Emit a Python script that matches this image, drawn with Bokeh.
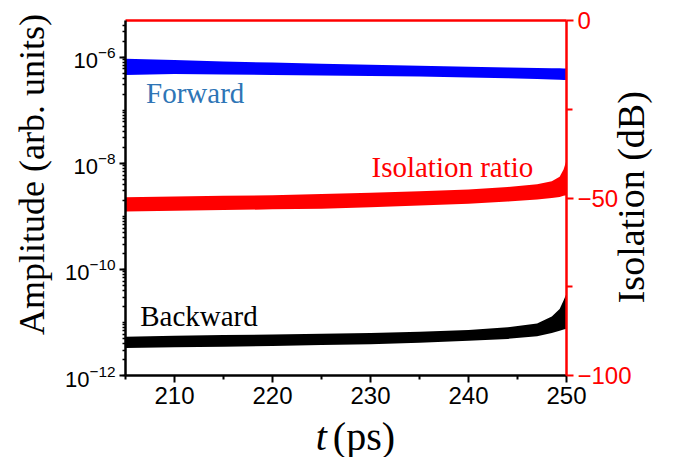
import math
from bokeh.plotting import figure
from bokeh.models import Range1d, LinearAxis, LinearScale, FixedTicker
from bokeh.layouts import row, column
from bokeh.core.properties import value
from bokeh.embed import file_html
from bokeh.resources import INLINE

# ---------------- data ----------------
t_ps = [205, 210, 215, 220, 225, 230, 235, 240, 244, 247, 248.5, 249.3, 249.7, 250]

# Forward amplitude envelope (arb. units)
forward_upper = [9.3e-7, 8.8e-7, 8.3e-7, 7.9e-7, 7.5e-7, 7.2e-7, 6.9e-7, 6.6e-7,
                 6.4e-7, 6.25e-7, 6.2e-7, 6.15e-7, 6.1e-7, 6.1e-7]
forward_lower = [4.6e-7, 4.8e-7, 4.7e-7, 4.6e-7, 4.5e-7, 4.4e-7, 4.3e-7, 4.15e-7,
                 4.0e-7, 3.85e-7, 3.8e-7, 3.75e-7, 3.7e-7, 3.7e-7]

# Backward amplitude envelope (arb. units)
backward_upper = [5.4e-12, 5.6e-12, 5.8e-12, 5.9e-12, 6.1e-12, 6.3e-12, 6.7e-12, 7.2e-12,
                  8.1e-12, 9.6e-12, 1.3e-11, 1.8e-11, 2.6e-11, 3.5e-11]
backward_lower = [3.3e-12, 3.4e-12, 3.5e-12, 3.6e-12, 3.75e-12, 3.9e-12, 4.15e-12, 4.5e-12,
                  4.9e-12, 5.5e-12, 6.3e-12, 7.0e-12, 7.4e-12, 7.6e-12]

# Isolation ratio envelope (dB)
isolation_upper = [-49.8, -49.6, -49.4, -49.2, -48.9, -48.5, -48.1, -47.6,
                   -46.9, -46.1, -45.3, -44.0, -42.0, -39.4]
isolation_lower = [-53.8, -53.6, -53.4, -53.2, -53.0, -52.6, -52.1, -51.6,
                   -51.0, -50.4, -50.0, -49.7, -49.4, -49.2]

# axes
x_major = [210, 220, 230, 240, 250]
x_minor = [205, 215, 225, 235, 245]
y_major = [1e-12, 1e-10, 1e-8, 1e-6]
y_minor = [k * 10.0 ** e for e in range(-12, -5) for k in range(1, 10)]
iso_major = [-100, -50, 0]
iso_minor = [-75, -25]
iso_tick_labels = ["\u2212100", "\u221250", "0"]

TICK_FONT = "Liberation Sans"
SERIF = "Liberation Serif"

# ---------------- main figure ----------------
p = figure(width=621, height=417,
           x_range=Range1d(205, 250), y_range=Range1d(1e-12, 4.9e-6),
           y_axis_type="log", output_backend="svg", toolbar_location=None,
           min_border_left=69, min_border_right=111,
           min_border_top=20, min_border_bottom=42)
p.xgrid.visible = False
p.ygrid.visible = False
p.outline_line_color = None

p.extra_y_ranges = {"iso": Range1d(-100, 0)}
p.extra_y_scales = {"iso": LinearScale()}

# bottom axis
xa = p.xaxis[0]
xa.ticker = FixedTicker(ticks=x_major, minor_ticks=x_minor)
xa.major_label_text_font = TICK_FONT
xa.major_label_text_font_size = "24px"
xa.major_label_text_color = "black"
xa.axis_line_width = 2.5
xa.axis_line_color = "black"
xa.major_tick_out = 7
xa.major_tick_in = 0
xa.minor_tick_out = 4
xa.minor_tick_in = 0
xa.major_tick_line_width = 2
xa.minor_tick_line_width = 2
xa.major_label_standoff = 4

# left axis
ya = p.yaxis[0]
ya.ticker = FixedTicker(ticks=y_major, minor_ticks=y_minor)
ya.major_label_text_font = TICK_FONT
ya.major_label_text_font_size = "22px"
ya.major_label_text_color = "black"
ya.axis_line_width = 2.5
ya.axis_line_color = "black"
ya.major_tick_out = 6
ya.major_tick_in = 0
ya.minor_tick_out = 3
ya.minor_tick_in = 0
ya.major_tick_line_width = 2
ya.minor_tick_line_width = 1.5
ya.major_label_standoff = 4

# right axis (isolation, dB)
ra = LinearAxis(y_range_name="iso",
                ticker=FixedTicker(ticks=iso_major, minor_ticks=iso_minor))
ra.major_label_overrides = {v: s for v, s in zip(iso_major, iso_tick_labels)}
ra.major_label_text_font = TICK_FONT
ra.major_label_text_font_size = "24px"
ra.major_label_text_color = "red"
ra.axis_line_color = "red"
ra.axis_line_width = 2.5
ra.major_tick_line_color = "red"
ra.minor_tick_line_color = "red"
ra.major_tick_out = 7
ra.major_tick_in = 0
ra.minor_tick_out = 6
ra.minor_tick_in = 0
ra.major_tick_line_width = 2
ra.minor_tick_line_width = 2
ra.major_label_standoff = 4
right_title = "Isolation (dB)"
if "axis_label_align" in LinearAxis.properties():
    ra.axis_label_align = "start"
    right_title = "\u2003\u2002\u2009\u2009" + right_title
ra.axis_label = right_title
ra.axis_label_text_font = SERIF
ra.axis_label_text_font_size = "38px"
ra.axis_label_text_font_style = "normal"
ra.axis_label_text_color = "black"
ra.axis_label_standoff = -4
try:
    ra.axis_label_orientation = math.pi / 2
except Exception:
    pass
p.add_layout(ra, "right")

# top frame line (red)
ta = LinearAxis(ticker=FixedTicker(ticks=[]))
ta.axis_line_color = "red"
ta.axis_line_width = 2.5
ta.major_tick_line_color = None
ta.minor_tick_line_color = None
ta.major_label_text_font_size = "0px"
p.add_layout(ta, "above")

# ---------------- data bands ----------------
p.varea(x=t_ps, y1=forward_lower, y2=forward_upper, fill_color="#0000FF")
p.varea(x=t_ps, y1=isolation_lower, y2=isolation_upper, fill_color="#FF0000",
        y_range_name="iso")
p.varea(x=t_ps, y1=backward_lower, y2=backward_upper, fill_color="#000000")

# ---------------- in-plot annotations ----------------
def note(fig, x, y, txt, color, size="29px", style="normal", align="left",
         baseline="alphabetic", angle=0.0):
    fig.text(x=[x], y=[y], text=[txt], text_font=value(SERIF),
             text_font_size=value(size), text_font_style=style,
             text_color=color, text_align=align, text_baseline=baseline,
             angle=angle)

note(p, 207.1, 2.07e-7, "Forward", "#2E75B6")
note(p, 230.1, 8.34e-9, "Isolation ratio", "#FF0000")
note(p, 206.5, 1.35e-11, "Backward", "black")

# ---------------- left title strip ----------------
left = figure(width=56, height=457, x_range=Range1d(0, 56), y_range=Range1d(0, 457),
              x_axis_location=None, y_axis_location=None, min_border=0,
              toolbar_location=None, output_backend="svg")
left.grid.visible = False
left.outline_line_color = None
note(left, 31, 283, "Amplitude (arb. units)", "black", size="36px",
     align="center", baseline="middle", angle=math.pi / 2)

# ---------------- bottom title strip ----------------
bottom = figure(width=621, height=40, x_range=Range1d(0, 621), y_range=Range1d(0, 40),
                x_axis_location=None, y_axis_location=None, min_border=0,
                toolbar_location=None, output_backend="svg")
bottom.grid.visible = False
bottom.outline_line_color = None
note(bottom, 268, 21, "t", "black", size="40px", style="italic")
note(bottom, 292, 21, "(ps)", "black", size="40px")

layout = row(left, column(p, bottom))
open("out.html", "w").write(file_html(layout, INLINE))
